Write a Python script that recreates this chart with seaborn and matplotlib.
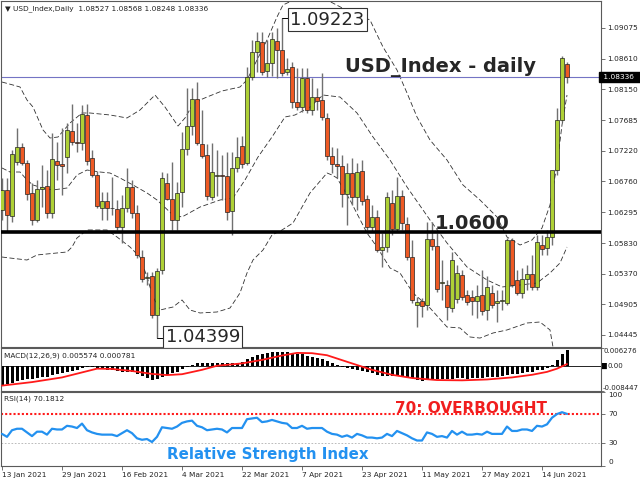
import numpy as np
import pandas as pd
import matplotlib
matplotlib.use('Agg')
import matplotlib.pyplot as plt
import seaborn as sns

# ==============================================================================
# Dados (USD_Index, diário, 13 Jan 2021 - 21 Jun 2021)
# ==============================================================================
opens = [1.06330, 1.06632, 1.06240, 1.07054, 1.07280, 1.07039, 1.06587, 1.06179, 1.06647, 1.06692,
         1.06285, 1.07069, 1.07024, 1.07129, 1.07521, 1.07356, 1.07341, 1.07763, 1.07114, 1.06858,
         1.06360, 1.06466, 1.06360, 1.06345, 1.06074, 1.06360, 1.06677, 1.06285, 1.05621, 1.05305,
         1.05335, 1.04747, 1.05425, 1.06737, 1.06496, 1.06179, 1.06602, 1.07250, 1.07597, 1.08004,
         1.07326, 1.07160, 1.06526, 1.06843, 1.06858, 1.06843, 1.06315, 1.06964, 1.07295, 1.07039,
         1.08336, 1.08713, 1.08864, 1.08426, 1.08547, 1.08879, 1.08743, 1.08411, 1.08487, 1.07959,
         1.07883, 1.08321, 1.07838, 1.08034, 1.07989, 1.07718, 1.07145, 1.07024, 1.06994, 1.06572,
         1.06888, 1.06526, 1.06918, 1.06496, 1.06074, 1.06225, 1.05727, 1.05772, 1.06436, 1.06044,
         1.06541, 1.06119, 1.05621, 1.04898, 1.04958, 1.04898, 1.05893, 1.05787, 1.05229, 1.05199,
         1.04852, 1.04988, 1.05350, 1.05048, 1.05018, 1.04958, 1.05048, 1.04822, 1.05079, 1.04928,
         1.04958, 1.04928, 1.05878, 1.05275, 1.05079, 1.05290, 1.05365, 1.05169, 1.05802, 1.05757,
         1.05923, 1.06933, 1.07687, 1.08527]
highs = [1.06813, 1.06813, 1.07235, 1.07567, 1.07341, 1.07084, 1.06737, 1.06783, 1.07009, 1.06933,
         1.07491, 1.07356, 1.07567, 1.07642, 1.07929, 1.07642, 1.07914, 1.07929, 1.07235, 1.06918,
         1.06602, 1.06602, 1.06828, 1.06481, 1.06556, 1.06964, 1.06783, 1.06406, 1.05727, 1.05395,
         1.05395, 1.05456, 1.06903, 1.06888, 1.07054, 1.06752, 1.07506, 1.08170, 1.08170, 1.08260,
         1.07838, 1.07326, 1.07341, 1.07235, 1.07160, 1.07205, 1.07205, 1.07431, 1.07446, 1.08487,
         1.08894, 1.09014, 1.09014, 1.08894, 1.09014, 1.09075, 1.09223, 1.08622, 1.08562, 1.08472,
         1.08472, 1.08472, 1.08321, 1.08170, 1.08396, 1.07793, 1.07280, 1.07265, 1.07160, 1.07039,
         1.07114, 1.07039, 1.07084, 1.06556, 1.06406, 1.06330, 1.05983, 1.06602, 1.06632, 1.06828,
         1.06632, 1.06225, 1.05878, 1.05018, 1.05003, 1.06149, 1.06149, 1.05983, 1.05576, 1.05275,
         1.05697, 1.05501, 1.05425, 1.05124, 1.05124, 1.05199, 1.05425, 1.05335, 1.05199, 1.05124,
         1.05124, 1.05908, 1.05908, 1.05425, 1.05456, 1.05501, 1.05652, 1.05953, 1.05953, 1.06029,
         1.06089, 1.07868, 1.08653, 1.08568]
lows = [1.06179, 1.05998, 1.06149, 1.07009, 1.07009, 1.06481, 1.06104, 1.06149, 1.06375, 1.06210,
        1.06210, 1.06783, 1.06556, 1.06888, 1.07310, 1.07205, 1.07235, 1.07009, 1.06828, 1.06360,
        1.06179, 1.06179, 1.06255, 1.06029, 1.05833, 1.06300, 1.06210, 1.05606, 1.05244, 1.05199,
        1.04702, 1.04399, 1.05365, 1.06481, 1.06029, 1.06029, 1.06375, 1.07160, 1.07461, 1.07310,
        1.07114, 1.06481, 1.06481, 1.06541, 1.06481, 1.06179, 1.05953, 1.06903, 1.06964, 1.07009,
        1.08291, 1.08411, 1.08366, 1.08336, 1.08351, 1.08321, 1.08351, 1.08366, 1.07868, 1.07838,
        1.07808, 1.07793, 1.07763, 1.07838, 1.07687, 1.07084, 1.06888, 1.06813, 1.06375, 1.06104,
        1.06406, 1.06330, 1.06406, 1.06029, 1.05998, 1.05697, 1.05471, 1.05697, 1.05953, 1.05998,
        1.06029, 1.05576, 1.04928, 1.04566, 1.04717, 1.04822, 1.05727, 1.05094, 1.04973, 1.04671,
        1.04792, 1.04928, 1.04973, 1.04898, 1.04747, 1.04702, 1.04747, 1.04671, 1.04852, 1.04641,
        1.04822, 1.04898, 1.05169, 1.05048, 1.05003, 1.05124, 1.05124, 1.05124, 1.05652, 1.05652,
        1.05802, 1.06858, 1.07657, 1.08248]
closes = [1.06632, 1.06255, 1.07175, 1.07280, 1.07039, 1.06572, 1.06179, 1.06647, 1.06677, 1.06285,
          1.07099, 1.07009, 1.06994, 1.07537, 1.07356, 1.07341, 1.07778, 1.07069, 1.06858, 1.06391,
          1.06466, 1.06360, 1.06355, 1.06074, 1.06360, 1.06677, 1.06285, 1.05652, 1.05290, 1.05320,
          1.04747, 1.05410, 1.06813, 1.06496, 1.06179, 1.06587, 1.07250, 1.07597, 1.08004, 1.07341,
          1.07145, 1.06541, 1.06903, 1.06858, 1.06843, 1.06300, 1.06964, 1.07129, 1.07024, 1.08336,
          1.08713, 1.08879, 1.08411, 1.08547, 1.08909, 1.08743, 1.08396, 1.08457, 1.07959, 1.07883,
          1.08321, 1.07838, 1.08034, 1.07974, 1.07733, 1.07145, 1.07024, 1.06994, 1.06572, 1.06888,
          1.06526, 1.06903, 1.06466, 1.06074, 1.06225, 1.05727, 1.05772, 1.06526, 1.06044, 1.06541,
          1.06134, 1.05621, 1.04973, 1.04943, 1.04883, 1.05893, 1.05787, 1.05139, 1.05244, 1.04867,
          1.05576, 1.05380, 1.05018, 1.04943, 1.04958, 1.05033, 1.04807, 1.05169, 1.04898, 1.04958,
          1.04973, 1.05878, 1.05199, 1.05079, 1.05290, 1.05365, 1.05169, 1.05848, 1.05742, 1.05923,
          1.06933, 1.07687, 1.08622, 1.08336]

# Bandas de Bollinger (pontos lidos ao longo das linhas tracejadas)
bb_up_x = [0, 2.2, 3.6, 5, 6.2, 8.2, 9.6, 11.2, 13.6, 16, 17.6, 21.6, 25, 27.6, 29.6, 30.6, 32.6,
           35.2, 36.6, 38, 39.6, 41, 44, 47.6, 49, 51, 53, 55, 56.2, 59.6, 62.6, 65, 69.6, 72.2,
           73.6, 76.2, 79, 81, 83, 85.6, 89, 92.2, 95.6, 99, 101, 103.6, 106, 108, 109.6, 111,
           112, 113]
bb_up = [1.08260, 1.08215, 1.08185, 1.07989, 1.07883, 1.07537, 1.07416, 1.07431, 1.07642, 1.07793,
         1.07793, 1.07763, 1.07718, 1.07838, 1.07989, 1.08064, 1.07883, 1.07597, 1.07718, 1.07899,
         1.07989, 1.08034, 1.08125, 1.08185, 1.08291, 1.08592, 1.08894, 1.09241, 1.09422, 1.09542,
         1.09557, 1.09497, 1.09316, 1.09241, 1.09195, 1.08788, 1.08441, 1.08095, 1.07733, 1.07386,
         1.07084, 1.06707, 1.06481, 1.06225, 1.05923, 1.05802, 1.05878, 1.06059, 1.06406, 1.07009,
         1.07612, 1.08064]
bb_mid_x = [0, 1.6, 3.6, 5, 6.2, 8.2, 10.2, 13, 15, 17, 19.6, 21.6, 23.6, 26.2, 29, 31, 34.2, 36,
            39.6, 43.6, 46.2, 48.6, 51.2, 54, 56.6, 58.6, 61.6, 64.2, 67.6, 71, 74.2, 77.6, 81,
            85.6, 89, 93, 97, 100, 103.6, 107, 109.6, 111.6, 113]
bb_mid = [1.06964, 1.06903, 1.06903, 1.06783, 1.06707, 1.06662, 1.06632, 1.06662, 1.06858, 1.06933,
          1.06903, 1.06888, 1.06813, 1.06707, 1.06587, 1.06481, 1.06255, 1.06225, 1.06375, 1.06481,
          1.06511, 1.06783, 1.07129, 1.07431, 1.07733, 1.07763, 1.07883, 1.08064, 1.08034, 1.07793,
          1.07431, 1.07084, 1.06677, 1.06179, 1.05833, 1.05471, 1.05275, 1.05169, 1.05199, 1.05229,
          1.05380, 1.05531, 1.05772]
bb_low_x = [0, 1.6, 5, 7, 11, 13, 14, 15, 17, 21, 23, 25.6, 27.6, 29, 30.2, 31.6, 34.2, 36, 37.6,
            39.6, 43, 45.6, 47.6, 49, 50.2, 52.2, 54, 56, 58.2, 61.6, 65, 66, 67, 69.6, 73, 75,
            77.6, 79.6, 82.2, 85.6, 89, 91.6, 93.6, 95.6, 98.2, 101, 105, 107.6, 109.6, 110.2,
            111.6, 113]
bb_low = [1.05621, 1.05606, 1.05576, 1.05652, 1.05682, 1.05697, 1.05772, 1.05908, 1.06029, 1.06029,
          1.05923, 1.05772, 1.05621, 1.05320, 1.05018, 1.04822, 1.04867, 1.04973, 1.04822, 1.04777,
          1.04792, 1.04852, 1.05079, 1.05380, 1.05576, 1.05727, 1.05953, 1.06029, 1.06134, 1.06587,
          1.06888, 1.06858, 1.06813, 1.06481, 1.05983, 1.05772, 1.05456, 1.05380, 1.05079, 1.04852,
          1.04566, 1.04551, 1.04415, 1.04399, 1.04475, 1.04521, 1.04626, 1.04641, 1.04521, 1.04264,
          1.03917, 1.03525]

# MACD(12,26,9): histograma (linha principal) e sinal
macd_hist = [-0.0064, -0.0062, -0.0057, -0.0051, -0.0047, -0.0045, -0.0044, -0.0041, -0.0037, -0.0035,
             -0.0030, -0.0027, -0.0024, -0.0019, -0.0015, -0.0012, -0.0007, -0.0004, -0.0003, -0.0006,
             -0.0009, -0.0011, -0.0013, -0.0016, -0.0018, -0.0018, -0.0020, -0.0026, -0.0034, -0.0040,
             -0.0046, -0.0044, -0.0035, -0.0028, -0.0024, -0.0019, -0.0010, -0.0002, 0.0006, 0.0010,
             0.0012, 0.0011, 0.0011, 0.0012, 0.0012, 0.0010, 0.0011, 0.0013, 0.0015, 0.0024,
             0.0033, 0.0040, 0.0043, 0.0046, 0.0049, 0.0050, 0.0050, 0.0049, 0.0046, 0.0043,
             0.0041, 0.0036, 0.0032, 0.0029, 0.0025, 0.0019, 0.0012, 0.0006, -0.0002, -0.0006,
             -0.0010, -0.0013, -0.0016, -0.0021, -0.0024, -0.0029, -0.0033, -0.0033, -0.0034, -0.0032,
             -0.0033, -0.0036, -0.0041, -0.0046, -0.0050, -0.0046, -0.0043, -0.0044, -0.0043, -0.0045,
             -0.0042, -0.0041, -0.0041, -0.0042, -0.0041, -0.0040, -0.0040, -0.0037, -0.0036, -0.0035,
             -0.0034, -0.0028, -0.0027, -0.0026, -0.0023, -0.0020, -0.0019, -0.0014, -0.0011, -0.0006,
             0.0004, 0.0022, 0.0042, 0.005574]
signal_x = [0, 6, 12, 19, 22, 26, 30, 33, 36, 40, 43, 48, 52, 56, 59, 62, 65, 70, 74, 78, 82, 87,
            92, 97, 102, 106, 109, 111, 113]
signal = [-0.0066, -0.0054, -0.0038, -0.0008, -0.0009, -0.0016, -0.0026, -0.0030, -0.0027, -0.0012,
          0.0002, 0.0010, 0.0022, 0.0037, 0.0046, 0.0045, 0.0038, 0.0010, -0.0012, -0.0029, -0.0040,
          -0.0047, -0.0048, -0.0045, -0.0038, -0.0029, -0.0019, -0.0008, 0.000781]

# RSI(14)
rsi = [43, 39, 48, 50, 50, 45, 40, 46, 46, 42, 50, 49, 49, 54, 53, 51, 57, 48, 45, 43,
       42, 42, 42, 40, 44, 48, 44, 37, 35, 36, 32, 39, 52, 51, 50, 53, 58, 60, 61, 54,
       52, 48, 49, 50, 49, 45, 51, 51, 51, 63, 64, 65, 59, 60, 62, 60, 58, 57, 51, 51,
       54, 50, 51, 51, 51, 46, 43, 42, 39, 41, 38, 43, 41, 38, 38, 37, 38, 43, 40, 47,
       44, 41, 37, 34, 34, 45, 43, 39, 40, 38, 47, 42, 46, 42, 42, 43, 42, 46, 43, 43,
       43, 53, 47, 47, 49, 49, 47, 54, 53, 56, 65, 70, 72.5, 70.1812]

date_pos = [0, 12, 24, 36, 48, 60, 72, 84, 96, 108]
date_labels = ['13 Jan 2021', '29 Jan 2021', '16 Feb 2021', '4 Mar 2021', '22 Mar 2021',
               '7 Apr 2021', '23 Apr 2021', '11 May 2021', '27 May 2021', '14 Jun 2021']
price_ticks = [1.09075, 1.08610, 1.08150, 1.07685, 1.07220, 1.06760, 1.06295,
               1.05830, 1.05370, 1.04905, 1.04445]
last_price = 1.08336
support = 1.0600

# ==============================================================================
# Estilo
# ==============================================================================
sns.set_theme(style='white')
plt.rcParams['font.family'] = ['DejaVu Sans']

bull = '#aed036'
bear = '#ee5a24'
borda = '#5a5a5a'
fs = 5.3

W, H = 640, 480
fig = plt.figure(figsize=(6.4, 4.8), dpi=100)
fig.patch.set_facecolor('white')


def painel(x0, y0, x1, y1):
    return fig.add_axes([x0 / W, 1 - y1 / H, (x1 - x0) / W, (y1 - y0) / H])


ax_p = painel(1, 1, 601, 347)
ax_m = painel(1, 348, 601, 391)
ax_r = painel(1, 392, 601, 465.5)

df = pd.DataFrame({'open': opens, 'high': highs, 'low': lows, 'close': closes})
df['bar'] = np.arange(len(df))
up = df['close'] >= df['open']

# ------------------------------------------------------------------ preço
ax_p.plot(bb_up_x, bb_up, color='#303030', lw=0.6, ls=(0, (6, 3)), zorder=1)
ax_p.plot(bb_mid_x, bb_mid, color='#303030', lw=0.6, ls=(0, (6, 3)), zorder=1)
ax_p.plot(bb_low_x, bb_low, color='#303030', lw=0.6, ls=(0, (6, 3)), zorder=1)

ax_p.axhline(last_price, color='#7474c4', lw=0.8, zorder=2)

ax_p.vlines(df['bar'], df['low'], df['high'], color='#707070', lw=1.0, zorder=3)
ax_p.bar(df['bar'][up], (df['close'] - df['open'])[up], bottom=df['open'][up], width=0.7,
         color=bull, edgecolor='#222222', linewidth=0.5, zorder=4)
ax_p.bar(df['bar'][~up], (df['close'] - df['open'])[~up], bottom=df['open'][~up], width=0.7,
         color=bear, edgecolor='#222222', linewidth=0.5, zorder=4)

ax_p.axhline(support, color='black', lw=2.6, zorder=5)

ax_p.set_xlim(-0.2, 119.8)
ax_p.set_ylim(1.04264, 1.09482)
ax_p.yaxis.tick_right()
ax_p.set_yticks(price_ticks)
ax_p.set_yticklabels([f'{v:.5f}' for v in price_ticks], fontsize=fs, color='#222222')
ax_p.set_xticks([])
ax_p.tick_params(axis='y', which='both', right=True, left=False, length=3, width=0.6,
                 pad=1.5, colors=borda, labelcolor='#222222')

ax_p.text(0.6, 1.09482 - 0.0011, '\u25bc USD_Index,Daily  1.08527 1.08568 1.08248 1.08336',
          fontsize=fs, color='#222222', va='center', ha='left')
ax_p.text(68.6, 1.08411, 'USD_Index - daily', fontsize=14, fontweight='bold',
          ha='left', va='baseline', zorder=6)
ax_p.text(86.6, 1.06044, '1.0600', fontsize=14, fontweight='bold',
          ha='left', va='baseline', zorder=6)

# rótulos de máxima e mínima
ax_p.plot([56, 57.3], [1.09223, 1.09223], color='black', lw=0.7, zorder=6)
ax_p.text(57.7, 1.09203, '1.09223', fontsize=13, ha='left', va='center', zorder=7,
          bbox=dict(boxstyle='square,pad=0.12', fc='white', ec='#333333', lw=0.8))
ax_p.plot([31, 32.3], [1.04399, 1.04399], color='black', lw=0.7, zorder=6)
ax_p.text(32.7, 1.04415, '1.04399', fontsize=13, ha='left', va='center', zorder=7,
          bbox=dict(boxstyle='square,pad=0.12', fc='white', ec='#333333', lw=0.8))

ax_p.text(1.0, last_price, ' 1.08336  ', transform=ax_p.get_yaxis_transform(),
          fontsize=fs, color='white', ha='left', va='center', zorder=8, clip_on=False,
          bbox=dict(boxstyle='square,pad=0.25', fc='black', ec='black'))

# ------------------------------------------------------------------ MACD
ax_m.bar(df['bar'], macd_hist, width=0.6, color='black', linewidth=0, zorder=2)
ax_m.axhline(0, color='black', lw=0.6, zorder=1)
sns.lineplot(x=signal_x, y=signal, ax=ax_m, color='#ff1a1a', linewidth=1.3, zorder=3)
ax_m.set_xlim(-0.2, 119.8)
ax_m.set_ylim(-0.008447, 0.006276)
ax_m.set_xticks([])
ax_m.yaxis.tick_right()
ax_m.set_yticks([0.006276, 0, -0.008447])
ax_m.set_yticklabels([])
ax_m.tick_params(axis='y', right=True, left=False, length=2, width=0.6, colors=borda)
ax_m.set_xlabel('')
ax_m.set_ylabel('')
yt = ax_m.get_yaxis_transform()
ax_m.text(1.004, 0.006276, '0.006276', transform=yt, fontsize=5.0, color='#222222',
          va='top', ha='left', clip_on=False)
ax_m.text(1.011, 0.0, '0.00', transform=yt, fontsize=5.0, color='#222222',
          va='center', ha='left', clip_on=False)
ax_m.text(1.0, 0.0, '\u2588', transform=yt, fontsize=4.5, color='black',
          va='center', ha='left', clip_on=False)
ax_m.text(1.002, -0.008447, '-0.008447', transform=yt, fontsize=5.0, color='#222222',
          va='bottom', ha='left', clip_on=False)
ax_m.text(0.005, 0.83, 'MACD(12,26,9) 0.005574 0.000781', transform=ax_m.transAxes,
          fontsize=fs, color='#222222', va='center', ha='left')

# ------------------------------------------------------------------ RSI
ax_r.axhline(70, color='#ff1a1a', lw=1.5, ls=(0, (1, 1)), zorder=1)
ax_r.axhline(30, color='#b0b0b0', lw=0.6, ls=(0, (2, 2)), zorder=1)
sns.lineplot(x=df['bar'], y=rsi, ax=ax_r, color='#2391f0', linewidth=1.6, zorder=3)
ax_r.set_xlim(-0.2, 119.8)
ax_r.set_ylim(0, 100)
ax_r.set_xlabel('')
ax_r.set_ylabel('')
ax_r.yaxis.tick_right()
ax_r.set_yticks([100, 70, 30, 0])
ax_r.set_yticklabels([])
ax_r.tick_params(axis='y', right=True, left=False, length=3, width=0.6, colors=borda)
yt = ax_r.get_yaxis_transform()
for v, va in [(100, 'top'), (70, 'center'), (30, 'center'), (0, 'bottom')]:
    ax_r.text(1.012, v, str(v), transform=yt, fontsize=fs, color='#222222',
              va=va, ha='left', clip_on=False)
ax_r.set_xticks(date_pos)
ax_r.set_xticklabels(date_labels, ha='left', fontsize=fs, color='#222222')
ax_r.tick_params(axis='x', bottom=True, length=3, width=0.6, pad=1.5, colors=borda,
                 labelcolor='#222222')
ax_r.text(0.005, 0.905, 'RSI(14) 70.1812', transform=ax_r.transAxes,
          fontsize=fs, color='#222222', va='center', ha='left')
ax_r.text(78.6, 71.0, '70: OVERBOUGHT', fontsize=11, fontweight='bold', color='#f01e1e',
          ha='left', va='baseline', zorder=5)
ax_r.text(33.0, 9.1, 'Relative Strength Index', fontsize=10.8, fontweight='bold',
          color='#2391f0', ha='left', va='baseline', zorder=5)

for ax in (ax_p, ax_m, ax_r):
    ax.set_facecolor('white')
    for s in ax.spines.values():
        s.set_color(borda)
        s.set_linewidth(0.8)

fig.savefig('out.png', dpi=100, facecolor='white')
